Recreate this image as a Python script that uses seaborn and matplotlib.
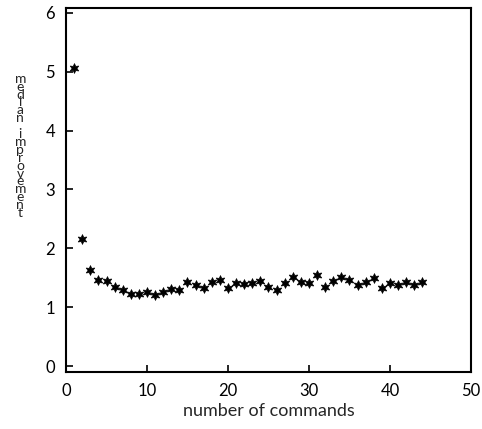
import matplotlib
matplotlib.use("Agg")
import matplotlib.pyplot as plt
import seaborn as sns
import pandas as pd

commands = list(range(1, 45))
improvement = [5.06, 2.15, 1.64, 1.47, 1.45, 1.35, 1.29, 1.22, 1.22, 1.25,
               1.21, 1.26, 1.31, 1.30, 1.42, 1.37, 1.33, 1.42, 1.46, 1.33,
               1.41, 1.40, 1.41, 1.45, 1.34, 1.30, 1.41, 1.51, 1.43, 1.41,
               1.55, 1.35, 1.45, 1.52, 1.46, 1.38, 1.43, 1.49, 1.33, 1.41,
               1.38, 1.42, 1.38, 1.43]
x_ticks = [0, 10, 20, 30, 40, 50]
y_ticks = [0, 1, 2, 3, 4, 5, 6]
y_label = "median improvement"

df = pd.DataFrame({"commands": commands, "improvement": improvement})

sns.set_style("ticks")
plt.rcParams['font.family'] = ['Lato', 'DejaVu Sans']

fig = plt.figure(figsize=(4.82, 4.29), dpi=100)
ax = fig.add_axes([0.137, 0.133, 0.84, 0.848])

sns.scatterplot(data=df, x="commands", y="improvement", ax=ax,
                marker=(6, 1, 0), s=50, color="black", edgecolor="black",
                linewidth=0.5)

ax.set_xlim(0, 50)
ax.set_ylim(-0.1, 6.08)
ax.set_xticks(x_ticks)
ax.set_yticks(y_ticks)
ax.tick_params(direction="in", length=5, width=1.2, labelsize=12,
               colors="black", pad=8)
for s in ax.spines.values():
    s.set_linewidth(1.5)
    s.set_color("black")

ax.set_xlabel("number of commands", fontsize=13, labelpad=3)
ax.set_ylabel("")

# stacked letters, one under the other, as a single text
fig.text(0.042, 0.66, "\n".join(y_label), ha="center", va="center",
         fontsize=10, linespacing=0.59)

fig.savefig("out.png", dpi=100)
